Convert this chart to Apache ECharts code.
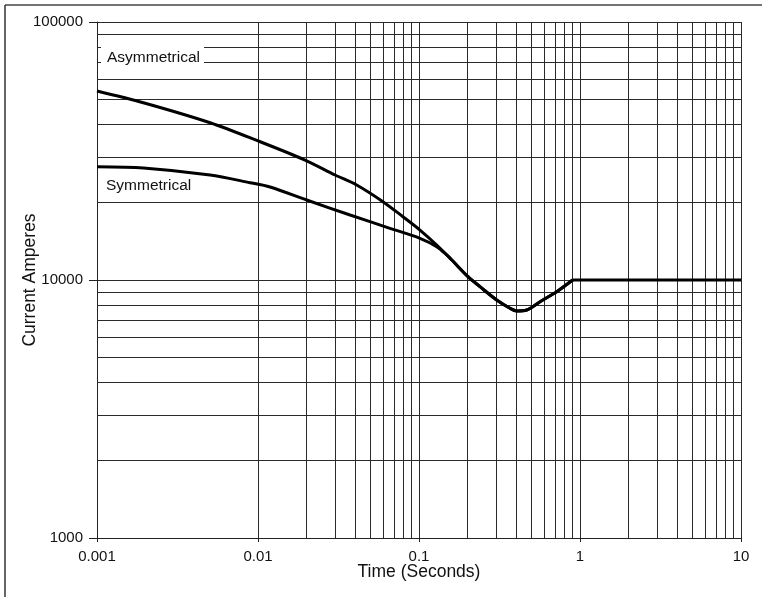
<!DOCTYPE html>
<html>
<head>
<meta charset="utf-8">
<script src="https://cdn.jsdelivr.net/npm/echarts@6/dist/echarts.min.js"></script>
<style>
  html, body { margin: 0; padding: 0; background: #fff; }
  #chart { width: 762px; height: 597px; }
</style>
</head>
<body>
<div id="chart"></div>
<script>
// Fault current decay, time in seconds vs current in amperes
const timeAsym = [0.001, 0.00194, 0.00504, 0.01, 0.01959, 0.0301, 0.041, 0.0597, 0.0795, 0.1014, 0.1288, 0.16];
const ampsAsym = [54000, 48660, 40700, 34600, 29170, 25530, 23350, 20120, 17590, 15620, 13670, 11950];

const timeSym = [0.001, 0.00194, 0.00504, 0.00892, 0.01187, 0.02007, 0.0373, 0.066, 0.1014, 0.1288, 0.1486, 0.16];
const ampsSym = [27490, 27180, 25530, 23840, 22940, 20420, 17860, 15860, 14510, 13460, 12500, 11950];

// Common dip and recovery once both curves coincide
const timeTail = [0.2015, 0.2393, 0.3039, 0.3674, 0.4044, 0.4667, 0.5645, 0.7167, 0.9];
const ampsTail = [10300, 9420, 8365, 7769, 7584, 7650, 8240, 9010, 10000];

// Steady-state current after the recovery
const timeFlat = [0.9, 10];
const ampsFlat = [10000, 10000];

const timeDecades = [0.001, 0.01, 0.1, 1];
const ampDecades = [1000, 10000];
const subSteps = [2, 3, 4, 5, 6, 7, 8, 9];

const seriesNames = ['Asymmetrical', 'Symmetrical'];

function pairs(xs, ys) { return xs.map((x, i) => [x, ys[i]]); }

const asymData = pairs(timeAsym, ampsAsym).concat(pairs(timeTail, ampsTail));
const symData = pairs(timeSym, ampsSym).concat(pairs(timeTail, ampsTail));
const flatData = pairs(timeFlat, ampsFlat);

// Intermediate log-grid lines (2..9 within each decade)
const vLines = [];
timeDecades.forEach(d => subSteps.forEach(s => vLines.push({ xAxis: +(d * s).toPrecision(3) })));
const hLines = [];
ampDecades.forEach(d => subSteps.forEach(s => hLines.push({ yAxis: d * s })));

const gridColor = '#2a2a2a';
const font = 'Liberation Sans, Arial, sans-serif';
const fmt = v => String(+(+v).toPrecision(1));

const curveStyle = { color: '#000', width: 3 };

const chart = echarts.init(document.getElementById('chart'), null, { renderer: 'canvas' });
chart.setOption({
  backgroundColor: '#fff',
  animation: false,
  grid: { left: 97, right: 21, top: 22, bottom: 59, containLabel: false, outerBoundsMode: 'none' },
  xAxis: {
    type: 'log', logBase: 10, min: 0.001, max: 10,
    name: 'Time (Seconds)', nameLocation: 'middle', nameGap: 25, nameMoveOverlap: false,
    nameTextStyle: { fontFamily: font, fontSize: 17.5, color: '#111' },
    axisLine: { show: true, lineStyle: { color: '#222', width: 1 } },
    axisTick: { show: true, length: 4, lineStyle: { color: '#222' } },
    axisLabel: { formatter: fmt, fontFamily: font, fontSize: 15, color: '#111', margin: 11 },
    splitLine: { show: true, lineStyle: { color: gridColor, width: 1 } },
    minorTick: { show: false }, minorSplitLine: { show: false }
  },
  yAxis: {
    type: 'log', logBase: 10, min: 1000, max: 100000,
    name: 'Current Amperes', nameLocation: 'middle', nameGap: 58, nameMoveOverlap: false,
    nameTextStyle: { fontFamily: font, fontSize: 17.5, color: '#111' },
    axisLine: { show: true, lineStyle: { color: '#222', width: 1 } },
    axisTick: { show: true, length: 8, lineStyle: { color: '#222' } },
    axisLabel: { formatter: v => String(Math.round(v)), fontFamily: font, fontSize: 15, color: '#111', margin: 14 },
    splitLine: { show: true, lineStyle: { color: gridColor, width: 1 } },
    minorTick: { show: false }, minorSplitLine: { show: false }
  },
  series: [
    {
      name: 'gridlines', type: 'line', data: [], z: 1, silent: true,
      markLine: {
        silent: true, symbol: 'none', animation: false,
        label: { show: false },
        lineStyle: { color: gridColor, width: 1, type: 'solid' },
        data: vLines.concat(hLines)
      }
    },
    {
      name: seriesNames[0], type: 'line', data: asymData, z: 5,
      showSymbol: false, smooth: 0.3,
      lineStyle: curveStyle
    },
    {
      name: seriesNames[1], type: 'line', data: symData, z: 5,
      showSymbol: false, smooth: 0.3,
      lineStyle: curveStyle
    },
    {
      name: 'steady', type: 'line', data: flatData, z: 5,
      showSymbol: false, smooth: false,
      lineStyle: curveStyle
    }
  ],
  graphic: [
    { type: 'line', shape: { x1: 5, y1: 5, x2: 762, y2: 5 }, style: { stroke: '#444', lineWidth: 1.5 } },
    { type: 'line', shape: { x1: 5, y1: 5, x2: 5, y2: 597 }, style: { stroke: '#333', lineWidth: 1.5 } },
    {
      type: 'text', left: 101, top: 47, z: 100,
      style: { text: seriesNames[0], font: '15.5px ' + font, fill: '#111', backgroundColor: '#fff', padding: [3, 4, 3, 6] }
    },
    {
      type: 'text', left: 101, top: 175, z: 100,
      style: { text: seriesNames[1], font: '15.5px ' + font, fill: '#111', backgroundColor: '#fff', padding: [3, 4, 3, 5] }
    }
  ]
});
</script>
</body>
</html>
